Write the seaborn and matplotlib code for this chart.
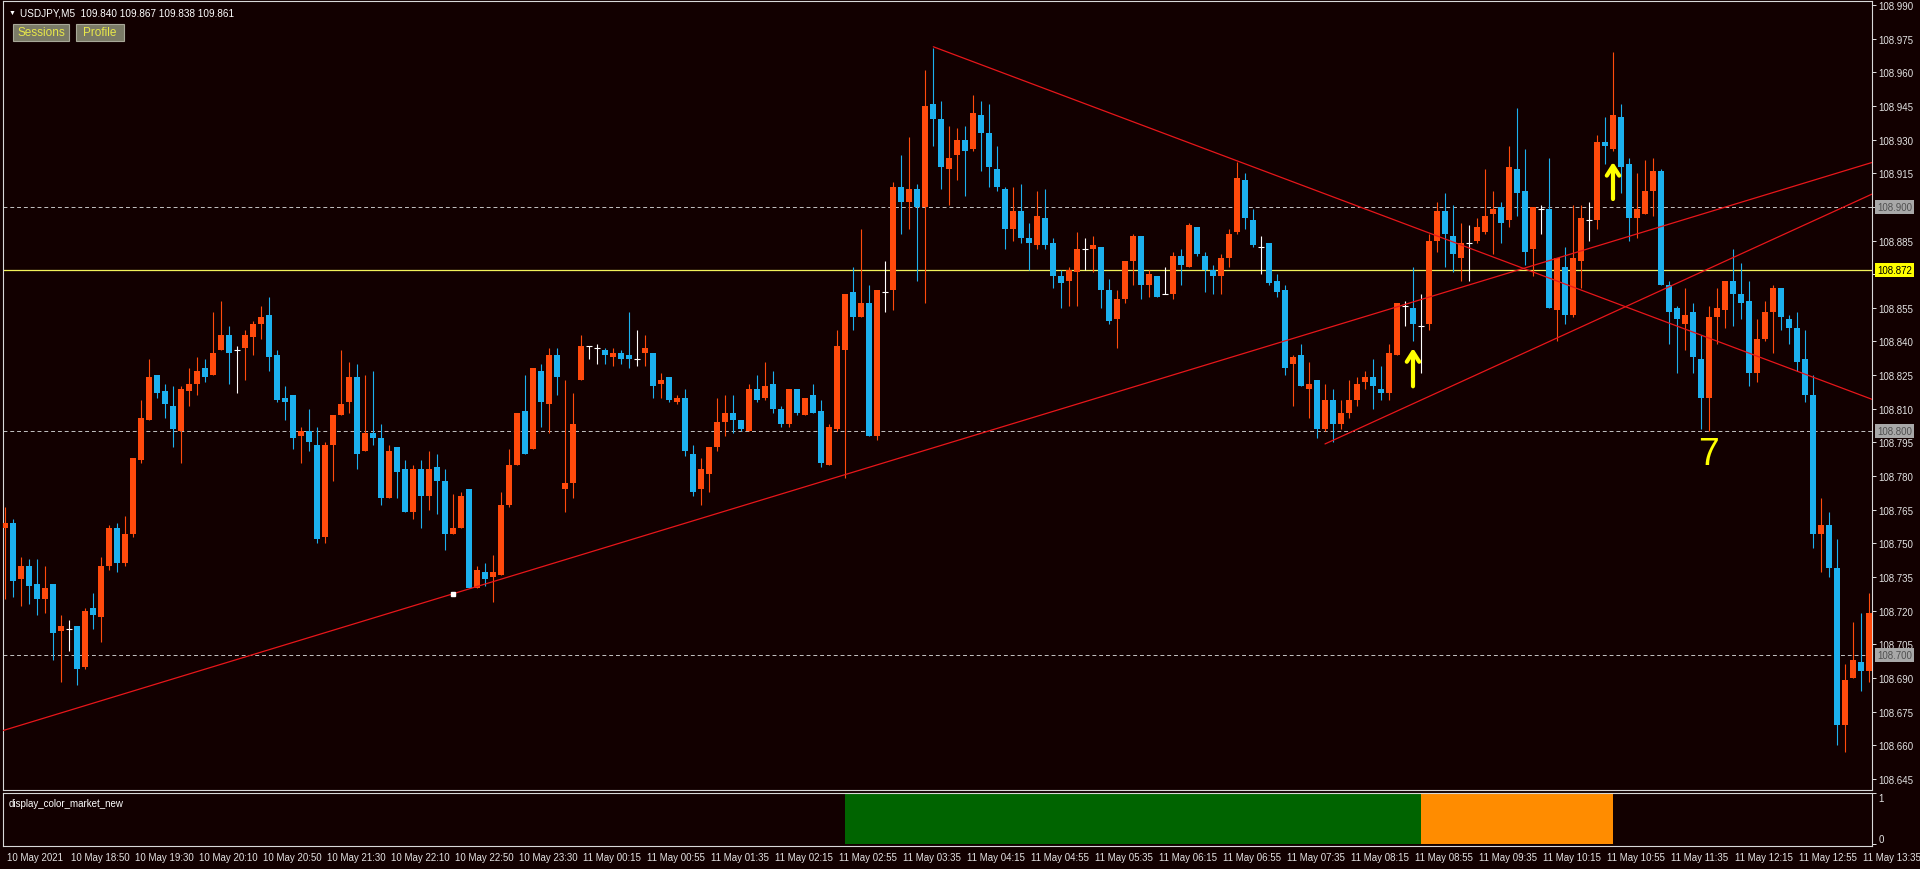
import numpy as np
import matplotlib
matplotlib.use("Agg")
import matplotlib.pyplot as plt
import matplotlib.transforms as mtransforms
from matplotlib.patches import Rectangle
import seaborn as sns

# USDJPY M5, one bar every 5 min, bar 0 = 10 May 18:10
opens = [
    108.757, 108.759, 108.734, 108.740, 108.732, 108.725, 108.732, 108.711, 108.712, 108.713,
    108.695, 108.721, 108.717, 108.740, 108.757, 108.741, 108.754, 108.787, 108.805, 108.825,
    108.818, 108.811, 108.800, 108.818, 108.821, 108.828, 108.825, 108.836, 108.843, 108.836,
    108.837, 108.842, 108.848, 108.852, 108.834, 108.815, 108.816, 108.798, 108.800, 108.794,
    108.753, 108.794, 108.807, 108.813, 108.824, 108.791, 108.799, 108.797, 108.770, 108.793,
    108.783, 108.764, 108.783, 108.771, 108.784, 108.778, 108.754, 108.757, 108.774, 108.730,
    108.737, 108.735, 108.736, 108.767, 108.785, 108.809, 108.792, 108.827, 108.812, 108.834,
    108.774, 108.777, 108.823, 108.838, 108.837, 108.836, 108.833, 108.835, 108.834, 108.832,
    108.835, 108.835, 108.821, 108.824, 108.813, 108.815, 108.790, 108.774, 108.781, 108.793,
    108.804, 108.808, 108.805, 108.800, 108.819, 108.815, 108.821, 108.810, 108.803, 108.819,
    108.807, 108.816, 108.809, 108.785, 108.801, 108.836, 108.862, 108.851, 108.857, 108.798,
    108.862, 108.863, 108.909, 108.902, 108.908, 108.900, 108.946, 108.939, 108.917, 108.923,
    108.930, 108.926, 108.941, 108.933, 108.917, 108.908, 108.890, 108.898, 108.886, 108.883,
    108.895, 108.884, 108.869, 108.867, 108.871, 108.881, 108.881, 108.882, 108.863, 108.850,
    108.859, 108.876, 108.887, 108.865, 108.869, 108.861, 108.861, 108.878, 108.873, 108.891,
    108.878, 108.872, 108.869, 108.877, 108.889, 108.912, 108.894, 108.882, 108.884, 108.867,
    108.863, 108.830, 108.834, 108.819, 108.823, 108.801, 108.814, 108.803, 108.808, 108.814,
    108.822, 108.824, 108.819, 108.817, 108.834, 108.856, 108.855, 108.847, 108.848, 108.885,
    108.898, 108.887, 108.877, 108.884, 108.885, 108.889, 108.897, 108.900, 108.894, 108.917,
    108.907, 108.881, 108.899, 108.899, 108.854, 108.873, 108.852, 108.876, 108.894, 108.894,
    108.929, 108.926, 108.940, 108.919, 108.895, 108.897, 108.907, 108.916, 108.865, 108.855,
    108.848, 108.853, 108.832, 108.815, 108.851, 108.854, 108.867, 108.861, 108.858, 108.826,
    108.841, 108.853, 108.864, 108.850, 108.846, 108.832, 108.816, 108.754, 108.758, 108.739,
    108.669, 108.690, 108.697, 108.693]
highs = [
    108.766, 108.761, 108.744, 108.743, 108.743, 108.740, 108.732, 108.718, 108.716, 108.713,
    108.721, 108.728, 108.744, 108.758, 108.759, 108.762, 108.788, 108.814, 108.832, 108.825,
    108.821, 108.820, 108.820, 108.828, 108.833, 108.832, 108.853, 108.858, 108.847, 108.838,
    108.845, 108.849, 108.856, 108.860, 108.836, 108.820, 108.816, 108.802, 108.810, 108.802,
    108.795, 108.807, 108.836, 108.831, 108.830, 108.825, 108.827, 108.803, 108.794, 108.793,
    108.787, 108.785, 108.787, 108.791, 108.790, 108.783, 108.772, 108.773, 108.774, 108.740,
    108.741, 108.745, 108.773, 108.792, 108.808, 108.825, 108.828, 108.830, 108.837, 108.837,
    108.823, 108.817, 108.843, 108.838, 108.839, 108.837, 108.837, 108.836, 108.853, 108.845,
    108.843, 108.835, 108.826, 108.824, 108.816, 108.819, 108.794, 108.788, 108.793, 108.815,
    108.816, 108.816, 108.805, 108.821, 108.825, 108.831, 108.827, 108.811, 108.819, 108.819,
    108.815, 108.821, 108.814, 108.803, 108.845, 108.861, 108.873, 108.890, 108.865, 108.863,
    108.876, 108.911, 108.923, 108.931, 108.910, 108.961, 108.971, 108.947, 108.936, 108.935,
    108.936, 108.950, 108.947, 108.946, 108.927, 108.909, 108.909, 108.910, 108.893, 108.907,
    108.908, 108.886, 108.872, 108.873, 108.889, 108.886, 108.887, 108.882, 108.868, 108.863,
    108.876, 108.888, 108.887, 108.872, 108.869, 108.873, 108.880, 108.881, 108.893, 108.891,
    108.880, 108.874, 108.879, 108.890, 108.920, 108.915, 108.899, 108.887, 108.884, 108.870,
    108.865, 108.834, 108.839, 108.831, 108.823, 108.821, 108.819, 108.814, 108.823, 108.824,
    108.827, 108.832, 108.829, 108.839, 108.857, 108.858, 108.873, 108.861, 108.888, 108.902,
    108.906, 108.901, 108.893, 108.892, 108.895, 108.917, 108.907, 108.902, 108.927, 108.944,
    108.926, 108.900, 108.901, 108.922, 108.877, 108.882, 108.901, 108.901, 108.902, 108.932,
    108.940, 108.969, 108.946, 108.922, 108.915, 108.921, 108.922, 108.917, 108.867, 108.856,
    108.864, 108.857, 108.843, 108.856, 108.864, 108.867, 108.881, 108.875, 108.867, 108.850,
    108.858, 108.865, 108.864, 108.852, 108.853, 108.845, 108.825, 108.770, 108.764, 108.752,
    108.696, 108.715, 108.719, 108.728]
lows = [
    108.725, 108.726, 108.722, 108.723, 108.718, 108.719, 108.698, 108.688, 108.702, 108.687,
    108.694, 108.712, 108.706, 108.738, 108.737, 108.740, 108.753, 108.786, 108.805, 108.815,
    108.806, 108.793, 108.786, 108.811, 108.816, 108.822, 108.825, 108.836, 108.821, 108.817,
    108.823, 108.834, 108.841, 108.827, 108.813, 108.805, 108.792, 108.786, 108.791, 108.750,
    108.750, 108.778, 108.807, 108.808, 108.783, 108.791, 108.794, 108.767, 108.770, 108.770,
    108.764, 108.761, 108.757, 108.765, 108.763, 108.747, 108.754, 108.757, 108.730, 108.730,
    108.731, 108.724, 108.736, 108.766, 108.785, 108.790, 108.792, 108.802, 108.799, 108.816,
    108.764, 108.770, 108.823, 108.832, 108.830, 108.830, 108.829, 108.830, 108.828, 108.829,
    108.829, 108.815, 108.815, 108.813, 108.812, 108.789, 108.771, 108.767, 108.773, 108.791,
    108.798, 108.799, 108.800, 108.800, 108.813, 108.814, 108.808, 108.802, 108.802, 108.807,
    108.807, 108.808, 108.784, 108.785, 108.800, 108.779, 108.845, 108.851, 108.798, 108.796,
    108.853, 108.854, 108.888, 108.890, 108.867, 108.857, 108.927, 108.908, 108.901, 108.912,
    108.905, 108.925, 108.916, 108.909, 108.907, 108.881, 108.885, 108.884, 108.872, 108.881,
    108.881, 108.864, 108.855, 108.856, 108.856, 108.872, 108.871, 108.855, 108.848, 108.837,
    108.857, 108.865, 108.859, 108.860, 108.860, 108.861, 108.859, 108.865, 108.873, 108.878,
    108.862, 108.861, 108.861, 108.873, 108.888, 108.890, 108.882, 108.870, 108.865, 108.860,
    108.825, 108.811, 108.820, 108.806, 108.797, 108.800, 108.795, 108.801, 108.806, 108.811,
    108.819, 108.810, 108.814, 108.814, 108.834, 108.847, 108.840, 108.826, 108.845, 108.880,
    108.873, 108.871, 108.867, 108.867, 108.884, 108.888, 108.879, 108.884, 108.891, 108.896,
    108.874, 108.869, 108.888, 108.855, 108.840, 108.848, 108.851, 108.864, 108.885, 108.890,
    108.919, 108.925, 108.906, 108.885, 108.886, 108.897, 108.896, 108.865, 108.839, 108.826,
    108.836, 108.826, 108.801, 108.800, 108.839, 108.846, 108.847, 108.850, 108.820, 108.822,
    108.840, 108.835, 108.845, 108.839, 108.827, 108.813, 108.748, 108.737, 108.735, 108.660,
    108.657, 108.690, 108.684, 108.688]
closes = [
    108.759, 108.733, 108.740, 108.731, 108.725, 108.730, 108.710, 108.713, 108.713, 108.694,
    108.720, 108.718, 108.740, 108.757, 108.741, 108.754, 108.788, 108.806, 108.824, 108.817,
    108.812, 108.801, 108.819, 108.821, 108.827, 108.824, 108.835, 108.843, 108.835, 108.836,
    108.843, 108.848, 108.851, 108.833, 108.814, 108.813, 108.797, 108.800, 108.795, 108.752,
    108.794, 108.807, 108.812, 108.824, 108.790, 108.799, 108.797, 108.770, 108.791, 108.782,
    108.764, 108.783, 108.771, 108.783, 108.778, 108.754, 108.757, 108.771, 108.730, 108.738,
    108.734, 108.737, 108.767, 108.785, 108.808, 108.790, 108.828, 108.813, 108.834, 108.824,
    108.777, 108.803, 108.838, 108.837, 108.837, 108.834, 108.835, 108.832, 108.832, 108.832,
    108.837, 108.820, 108.823, 108.814, 108.815, 108.791, 108.773, 108.783, 108.793, 108.804,
    108.808, 108.805, 108.801, 108.819, 108.814, 108.820, 108.810, 108.803, 108.819, 108.808,
    108.815, 108.808, 108.786, 108.802, 108.838, 108.861, 108.851, 108.857, 108.798, 108.863,
    108.863, 108.909, 108.902, 108.908, 108.900, 108.945, 108.939, 108.918, 108.922, 108.930,
    108.925, 108.942, 108.933, 108.918, 108.909, 108.890, 108.898, 108.886, 108.884, 108.896,
    108.883, 108.869, 108.866, 108.872, 108.881, 108.880, 108.883, 108.863, 108.849, 108.859,
    108.876, 108.887, 108.865, 108.870, 108.860, 108.861, 108.878, 108.874, 108.892, 108.879,
    108.872, 108.869, 108.877, 108.888, 108.913, 108.895, 108.883, 108.883, 108.866, 108.862,
    108.828, 108.833, 108.820, 108.821, 108.801, 108.814, 108.803, 108.808, 108.814, 108.821,
    108.824, 108.820, 108.817, 108.835, 108.857, 108.856, 108.848, 108.848, 108.885, 108.898,
    108.888, 108.879, 108.884, 108.885, 108.891, 108.896, 108.899, 108.893, 108.918, 108.906,
    108.880, 108.900, 108.899, 108.855, 108.877, 108.852, 108.877, 108.895, 108.894, 108.929,
    108.927, 108.941, 108.918, 108.895, 108.899, 108.907, 108.916, 108.865, 108.853, 108.850,
    108.852, 108.833, 108.815, 108.851, 108.855, 108.867, 108.861, 108.857, 108.826, 108.841,
    108.853, 108.864, 108.851, 108.846, 108.831, 108.816, 108.754, 108.758, 108.739, 108.669,
    108.689, 108.698, 108.693, 108.719]

time_bars = [0, 8, 16, 24, 32, 40, 48, 56, 64, 72, 80, 88, 96, 104, 112, 120, 128, 136, 144,
             152, 160, 168, 176, 184, 192, 200, 208, 216, 224, 232]
time_labels = ['10 May 2021', '10 May 18:50', '10 May 19:30', '10 May 20:10', '10 May 20:50',
               '10 May 21:30', '10 May 22:10', '10 May 22:50', '10 May 23:30', '11 May 00:15',
               '11 May 00:55', '11 May 01:35', '11 May 02:15', '11 May 02:55', '11 May 03:35',
               '11 May 04:15', '11 May 04:55', '11 May 05:35', '11 May 06:15', '11 May 06:55',
               '11 May 07:35', '11 May 08:15', '11 May 08:55', '11 May 09:35', '11 May 10:15',
               '11 May 10:55', '11 May 11:35', '11 May 12:15', '11 May 12:55', '11 May 13:35']
price_ticks = [108.645, 108.660, 108.675, 108.690, 108.705, 108.720, 108.735, 108.750,
               108.765, 108.780, 108.795, 108.810, 108.825, 108.840, 108.855, 108.870,
               108.885, 108.900, 108.915, 108.930, 108.945, 108.960, 108.975, 108.990]

dashed_levels = [108.900, 108.800, 108.700]
bid_level = 108.872

# trend lines: (bar, price) end points
trend_up_x, trend_up_y = [-0.25, 233.375], [108.6665, 108.9198]
trend_down_x, trend_down_y = [116.04, 233.375], [108.9714, 108.8142]
channel_x, channel_y = [165.0, 233.375], [108.7943, 108.9057]
anchor_bar, anchor_price = 56.0, 108.7275

arrow_bars = [176, 201]
arrow_base = [108.820, 108.9035]
arrow_tip = [108.837, 108.920]
count_bar, count_price, count_text = 212.9, 108.7898, '7'

# display_color_market_new states (first bar, last bar)
green_bars = (105, 176)
orange_bars = (177, 200)

BG = '#120000'
UP = '#ff4a0c'
DN = '#1cb0ee'
FG = '#e2e2e2'

sns.set_theme(style='dark', rc={'axes.facecolor': BG, 'figure.facecolor': BG,
                                'axes.edgecolor': '#d8d8d8', 'text.color': FG,
                                'xtick.color': FG, 'ytick.color': FG})
plt.rcParams['font.family'] = ['Liberation Sans', 'DejaVu Sans']

fig = plt.figure(figsize=(19.2, 8.7), dpi=100)
ax = fig.add_axes([3 / 1920, 79 / 870, 1869 / 1920, 789 / 870])
ax2 = fig.add_axes([3 / 1920, 23 / 870, 1869 / 1920, 53 / 870])
for a in (ax, ax2):
    a.set_facecolor(BG)
    a.grid(False)
    for s in a.spines.values():
        s.set_visible(True)
        s.set_color('#d8d8d8')
        s.set_linewidth(0.8)

# candles
x = np.arange(len(opens))
o, h, l, c = (np.array(v) for v in (opens, highs, lows, closes))
doji = np.isclose(o, c)
col = np.where(c > o, UP, DN)
col = np.where(doji, 'white', col)
ax.vlines(x, l, h, colors=col, linewidth=0.8, zorder=3)
m = ~doji
ax.bar(x[m], np.maximum(np.abs(c - o)[m], 0.0005), bottom=np.minimum(o, c)[m],
       width=0.68, color=col[m], linewidth=0, zorder=4)
ax.hlines(o[doji], x[doji] - 0.34, x[doji] + 0.34, colors='white', linewidth=0.8, zorder=4)

for lv in dashed_levels:
    ax.axhline(lv, color='#c4c4c4', lw=0.7, ls=(0, (4, 3)), zorder=2)
ax.axhline(bid_level, color='#f2f25a', lw=0.9, zorder=2)

for tx, ty in [(trend_up_x, trend_up_y), (trend_down_x, trend_down_y), (channel_x, channel_y)]:
    sns.lineplot(x=tx, y=ty, ax=ax, color='#e8161a', lw=0.9, zorder=5)
ax.plot(anchor_bar, anchor_price, marker='s', ms=3, mfc='white', mec='white', zorder=6)

for xb, yb, yt in zip(arrow_bars, arrow_base, arrow_tip):
    ax.annotate('', xy=(xb, yt), xytext=(xb, yb), zorder=7,
                arrowprops=dict(arrowstyle='->,head_length=0.5,head_width=0.32', color='#ffff00',
                                lw=3, shrinkA=0, shrinkB=0, mutation_scale=14))
ax.text(count_bar, count_price, count_text, color='#ffff00', fontsize=27, ha='center', va='center', zorder=7)

ax.set_xlim(-0.25, 233.375)
ax.set_ylim(108.6400, 108.9918)
ax.set_xlabel('')
ax.set_ylabel('')
ax.yaxis.tick_right()
ax.set_yticks(price_ticks)
# levels hidden under the price boxes keep an empty label
covered = [108.870, 108.900]
ax.set_yticklabels(['' if any(abs(v - cv) < 1e-6 for cv in covered) else f'{v:.3f}' for v in price_ticks])
ax.tick_params(axis='y', direction='out', length=3, width=0.7, colors=FG, labelsize=7, pad=1.5)
ax.tick_params(axis='x', bottom=False, labelbottom=False)

# price boxes on the axis
tr = mtransforms.blended_transform_factory(ax.transAxes, ax.transData) + \
    mtransforms.ScaledTranslation(5 / 100, 0, fig.dpi_scale_trans)
for lv in dashed_levels:
    ax.text(1.0, lv, f'{lv:.3f}', transform=tr, ha='left', va='center', fontsize=7, color='#505050',
            bbox=dict(boxstyle='square,pad=0.2', fc='#a8a8a8', ec='none'), clip_on=False, zorder=10)
ax.text(1.0, bid_level, f'{bid_level:.3f}', transform=tr, ha='left', va='center', fontsize=7, color='black',
        bbox=dict(boxstyle='square,pad=0.2', fc='#ffff00', ec='none'), clip_on=False, zorder=10)

# indicator sub window
g = np.arange(green_bars[0], green_bars[1] + 1)
r = np.arange(orange_bars[0], orange_bars[1] + 1)
ax2.bar(g, np.ones(len(g)), width=1, align='edge', color='#006400', linewidth=0)
ax2.bar(r, np.ones(len(r)), width=1, align='edge', color='#ff8c00', linewidth=0)
ax2.set_xlim(-0.25, 233.375)
ax2.set_ylim(-0.04, 1.0)
ax2.yaxis.tick_right()
ax2.set_yticks([0, 1])
ax2.set_yticklabels(['0', '1'])
ax2.tick_params(axis='y', direction='out', length=3, width=0.7, colors=FG, labelsize=7, pad=1.5)
yl = ax2.get_yticklabels()
yl[0].set_va('bottom')
yl[1].set_va('top')
ax2.set_xticks(time_bars)
ax2.set_xticklabels(time_labels, fontsize=7, ha='left')
ax2.tick_params(axis='x', direction='out', length=3.6, width=0.7, colors=FG, pad=1)
shift = mtransforms.ScaledTranslation(2 / 100, 0, fig.dpi_scale_trans)
for lbl in ax2.get_xticklabels():
    lbl.set_transform(lbl.get_transform() + shift)
ax2.text(0, 1, 'display_color_market_new', fontsize=7, color='white', ha='left', va='top',
         transform=ax2.transAxes + mtransforms.ScaledTranslation(6 / 100, -5 / 100, fig.dpi_scale_trans))

# header and buttons
fig.text(9 / 1920, 1 - 13 / 870, '▼', fontsize=5, color='white', va='center')
fig.text(20 / 1920, 1 - 13 / 870, 'USDJPY,M5  109.840 109.867 109.838 109.861', fontsize=7.2,
         color='white', va='center')
for bx, bw, name in [(13, 56, 'Sessions'), (76, 48, 'Profile')]:
    fig.add_artist(Rectangle((bx / 1920, 1 - 42 / 870), bw / 1920, 17 / 870, transform=fig.transFigure,
                             fc='#7a7a66', ec='#a8a898', lw=0.8))
    fig.text((bx + bw / 2) / 1920, 1 - 33.5 / 870, name, fontsize=8.5, color='#e8e84a',
             ha='center', va='center')

fig.savefig('out.png', dpi=100, facecolor=BG)
